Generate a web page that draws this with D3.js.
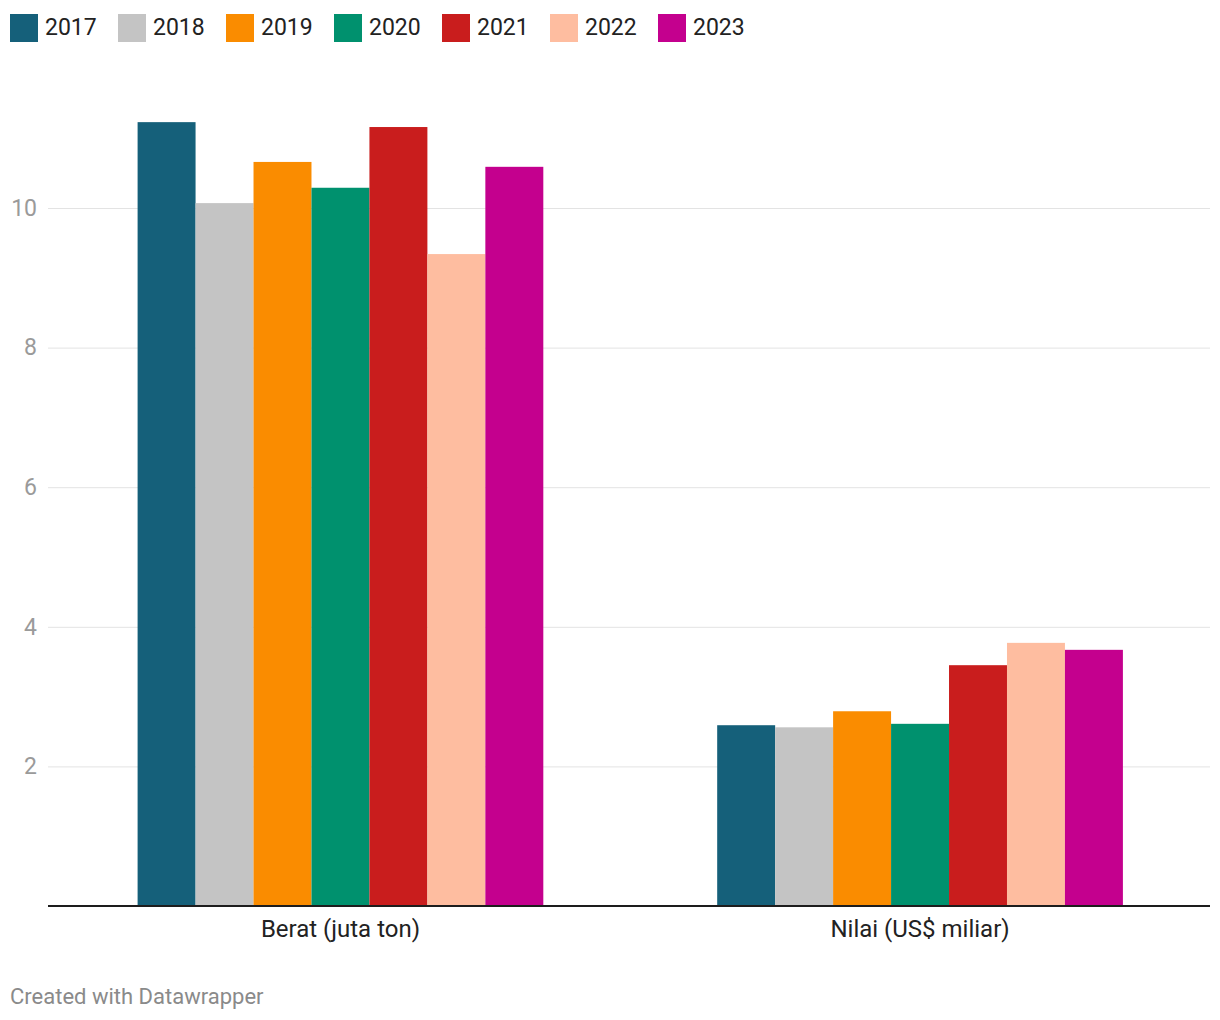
<!DOCTYPE html>
<html><head><meta charset="utf-8">
<script src="https://cdn.jsdelivr.net/npm/d3@7"></script>
<style>body{margin:0;background:#fff;font-family:Roboto,sans-serif}</style>
</head><body><svg id="c" width="1220" height="1020"></svg>
<script>
const categories = ["Berat (juta ton)", "Nilai (US$ miliar)"];
const years = ["2017","2018","2019","2020","2021","2022","2023"];
const colors = ["#15607a","#c4c4c4","#fa8c00","#00916e","#c91d1d","#febda0","#c4008e"];
const berat = [11.23, 10.07, 10.66, 10.29, 11.16, 9.34, 10.59];
const nilai = [2.59, 2.56, 2.79, 2.61, 3.45, 3.77, 3.67];
const yTicks = [2, 4, 6, 8, 10];
const footer = "Created with Datawrapper";

const seriesByCat = [berat, nilai];
const svg = d3.select("#c");
const left = 48, right = 1210, base = 906;
const y = d3.scaleLinear().domain([0, 10]).range([base, 208]);
const x0 = d3.scaleBand().domain(categories).range([left + 1.5, right + 1]).paddingInner(0.3).paddingOuter(0.152);
const x1 = d3.scaleBand().domain(years).range([0, x0.bandwidth()]);
const color = d3.scaleOrdinal().domain(years).range(colors);

// legend
const leg = svg.append("g");
years.forEach((yr, i) => {
  const g = leg.append("g").attr("transform", `translate(${10 + i*108},14)`);
  g.append("rect").attr("width", 28).attr("height", 28).attr("fill", colors[i]);
  g.append("text").attr("x", 35).attr("y", 21).attr("font-size", 23).attr("fill", "#222").text(yr);
});

// grid
const yAxis = d3.axisLeft(y).tickValues(yTicks).tickSize(-(right - left)).tickFormat(d3.format("d"));
const ga = svg.append("g").attr("transform", `translate(${left},0)`).call(yAxis);
ga.select(".domain").remove();
ga.selectAll(".tick line").attr("stroke", "#e3e3e3").attr("stroke-width", 1);
ga.selectAll(".tick text").attr("x", -11).attr("fill", "#9a9a9a").attr("font-size", 23).attr("font-family", "Roboto");

// bars
categories.forEach((cat, ci) => {
  svg.append("g").attr("transform", `translate(${x0(cat)},0)`)
    .selectAll("rect").data(seriesByCat[ci]).join("rect")
    .attr("x", (d, i) => x1(years[i]))
    .attr("width", x1.bandwidth())
    .attr("y", d => y(d))
    .attr("height", d => base - y(d))
    .attr("fill", (d, i) => color(years[i]));
});

// x axis
const xAxis = d3.axisBottom(x0).tickSize(0).tickPadding(14);
const gx = svg.append("g").attr("transform", `translate(0,${base})`).call(xAxis);
gx.select(".domain").remove();
gx.append("line").attr("x1", left).attr("x2", right).attr("stroke", "#1d1d1d").attr("stroke-width", 2);
gx.selectAll(".tick text").attr("fill", "#222").attr("font-size", 24).attr("font-family", "Roboto");

svg.append("text").attr("x", 10).attr("y", 1004).attr("font-size", 22).attr("fill", "#8a8a8a").text(footer);
</script></body></html>
